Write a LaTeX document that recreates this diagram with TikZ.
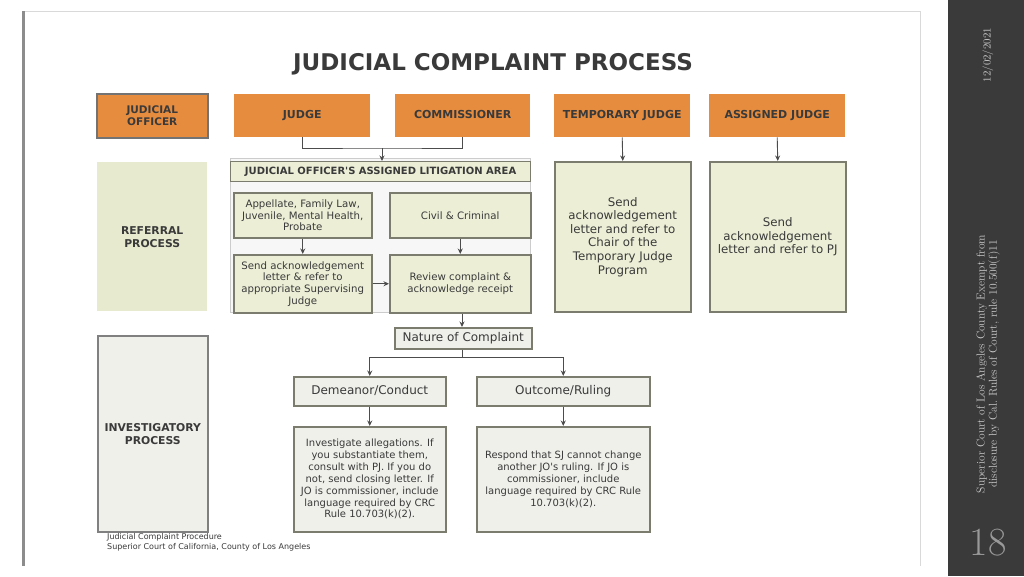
\documentclass[tikz,border=0pt]{standalone}
\usepackage{fontspec}
\usepackage{tikz}
\usetikzlibrary{arrows.meta}
\newfontfamily\sansf{DejaVu Sans}

\definecolor{jorange}{HTML}{E68C3F}
\definecolor{jgreen}{HTML}{ECEED6}
\definecolor{jlabel}{HTML}{E7EACF}
\definecolor{jgrey}{HTML}{EFF0EA}
\definecolor{jborder}{HTML}{7B7C6E}
\definecolor{jtext}{HTML}{3A3A3A}
\definecolor{jpanel}{HTML}{3A3A3A}

\tikzset{
  orangebox/.style={fill=jorange, text=jtext, anchor=north west, align=center,
    font=\sansf\bfseries\fontsize{11}{13}\selectfont},
  oneline/.style={text height=8pt, text depth=2pt},
  greenbox/.style={draw=jborder, line width=1.5pt, fill=jgreen, text=jtext, anchor=north west,
    align=center, inner sep=0pt, font=\sansf\fontsize{10.2}{11.7}\selectfont},
  greybox/.style={greenbox, fill=jgrey},
  sidelabel/.style={anchor=north west, text=jtext, align=center,
    font=\sansf\bfseries\fontsize{10.8}{13}\selectfont},
  link/.style={draw=black!70, line width=0.9pt},
}

\begin{document}
\begin{tikzpicture}[x=1pt, y=-1pt, >={Stealth[length=5.5pt,width=5pt]}]
      \useasboundingbox (0,0) rectangle (1024,576);
      \fill[white] (0,0) rectangle (1024,576);
      % slide frame and side panel
      \draw[black!15, line width=1pt] (22,11) -- (920,11) -- (920,566);
      \fill[black!45] (22,11) rectangle (25,566);
      \fill[jpanel] (948,0) rectangle (1024,576);
      \node[rotate=90, text=black!20, font=\fontsize{10.8}{12}\selectfont] (date) at (988,55) {12/02/2021};
      \node[rotate=90, text=black!20, align=center, font=\fontsize{11.5}{12.2}\selectfont] (exempt) at (988,364)
        {Superior Court of Los Angeles County Exempt from\\disclosure by Cal.\ Rules of Court, rule 10.500(f)11};
      \node[text=black!40, font=\fontsize{40}{44}\selectfont] (page) at (988,543) {18};

      \node[text=jtext, font=\sansf\bfseries\fontsize{23}{26}\selectfont] (title) at (493,64) {JUDICIAL COMPLAINT PROCESS};

      % top row
      \node[orangebox, draw=black!55, line width=1.5pt, minimum width=111, minimum height=44,
        font=\sansf\bfseries\fontsize{10.5}{12.5}\selectfont] (officer) at (96,93) {JUDICIAL\\OFFICER};
      \node[orangebox, oneline, minimum width=136, minimum height=43] (judge) at (234,94) {JUDGE};
      \node[orangebox, oneline, minimum width=135, minimum height=43] (comm) at (395,94) {COMMISSIONER};
      \node[orangebox, oneline, minimum width=136, minimum height=43] (temp) at (554,94) {TEMPORARY JUDGE};
      \node[orangebox, oneline, minimum width=136, minimum height=43] (assigned) at (709,94) {ASSIGNED JUDGE};

      % referral process
      \fill[black!3, draw=black!20] (230,158) rectangle (530,312);
      \node[sidelabel, fill=jlabel, minimum width=110, minimum height=149] (referral) at (97,162) {REFERRAL\\PROCESS};
      \node[greenbox, oneline, line width=1.2pt, minimum width=300, minimum height=20,
        font=\sansf\bfseries\fontsize{10}{11}\selectfont] (litarea) at (230,161) {JUDICIAL OFFICER'S ASSIGNED LITIGATION AREA};
      \node[greenbox, minimum width=138, minimum height=45] (appellate) at (233,192)
        {Appellate, Family Law,\\Juvenile, Mental Health,\\Probate};
      \node[greenbox, minimum width=141, minimum height=45] (civil) at (389,192) {Civil \& Criminal};
      \node[greenbox, minimum width=138, minimum height=58] (sendack) at (233,254)
        {Send acknowledgement\\letter \& refer to\\appropriate Supervising\\Judge};
      \node[greenbox, minimum width=141, minimum height=58] (review) at (389,254)
        {Review complaint \&\\acknowledge receipt};
      \node[greenbox, minimum width=136, minimum height=150, font=\sansf\fontsize{11.8}{13.6}\selectfont] (tempack) at (554,161)
        {Send\\acknowledgement\\letter and refer to\\Chair of the\\Temporary Judge\\Program};
      \node[greenbox, minimum width=136, minimum height=150, font=\sansf\fontsize{11.8}{13.6}\selectfont] (assignack) at (709,161)
        {Send\\acknowledgement\\letter and refer to PJ};

      % investigatory process
      \node[sidelabel, fill=jgrey, draw=black!50, line width=1.5pt, minimum width=110, minimum height=196] (invest) at (97,335)
        {INVESTIGATORY\\PROCESS};
      \node[greybox, oneline, minimum width=137, minimum height=21, font=\sansf\fontsize{12}{13}\selectfont] (nature) at (394,327) {Nature of Complaint};
      \node[greybox, oneline, minimum width=152, minimum height=29, font=\sansf\fontsize{12}{13}\selectfont] (demeanor) at (293,376) {Demeanor/Conduct};
      \node[greybox, oneline, minimum width=173, minimum height=29, font=\sansf\fontsize{12}{13}\selectfont] (outcome) at (476,376) {Outcome/Ruling};
      \node[greybox, minimum width=152, minimum height=105, font=\sansf\fontsize{10}{11.8}\selectfont] (allege) at (293,426)
        {Investigate allegations. If\\you substantiate them,\\consult with PJ. If you do\\not, send closing letter. If\\JO is commissioner, include\\language required by CRC\\Rule 10.703(k)(2).};
      \node[greybox, minimum width=173, minimum height=105, font=\sansf\fontsize{10}{11.8}\selectfont] (respond) at (476,426)
        {Respond that SJ cannot change\\another JO's ruling. If JO is\\commissioner, include\\language required by CRC Rule\\10.703(k)(2).};

      \node[anchor=north west, align=left, inner sep=0pt, text=jtext, font=\sansf\fontsize{8}{10}\selectfont] (source) at (107,533)
        {Judicial Complaint Procedure\\Superior Court of California, County of Los Angeles};

      % connectors
      \coordinate (join) at (382,148);
      \coordinate (split) at (462,357);
      \draw[link] (judge.south) |- (join) -| (comm.south);
      \draw[link,->] (join) -- (join |- litarea.north);
      \draw[link,->] (temp.south) -- (tempack.north);
      \draw[link,->] (assigned.south) -- (assignack.north);
      \draw[link,->] (appellate.south) -- (sendack.north);
      \draw[link,->] (civil.south) -- (review.north);
      \draw[link,->] (sendack.east) -- (review.west);
      \draw[link,->] (review.south -| split) -- (nature.north -| split);
      \draw[link] (nature.south -| split) -- (split);
      \draw[link,->] (split) -| (demeanor.north);
      \draw[link,->] (split) -| (outcome.north);
      \draw[link,->] (demeanor.south) -- (allege.north);
      \draw[link,->] (outcome.south) -- (respond.north);
    \end{tikzpicture}
\end{document}
